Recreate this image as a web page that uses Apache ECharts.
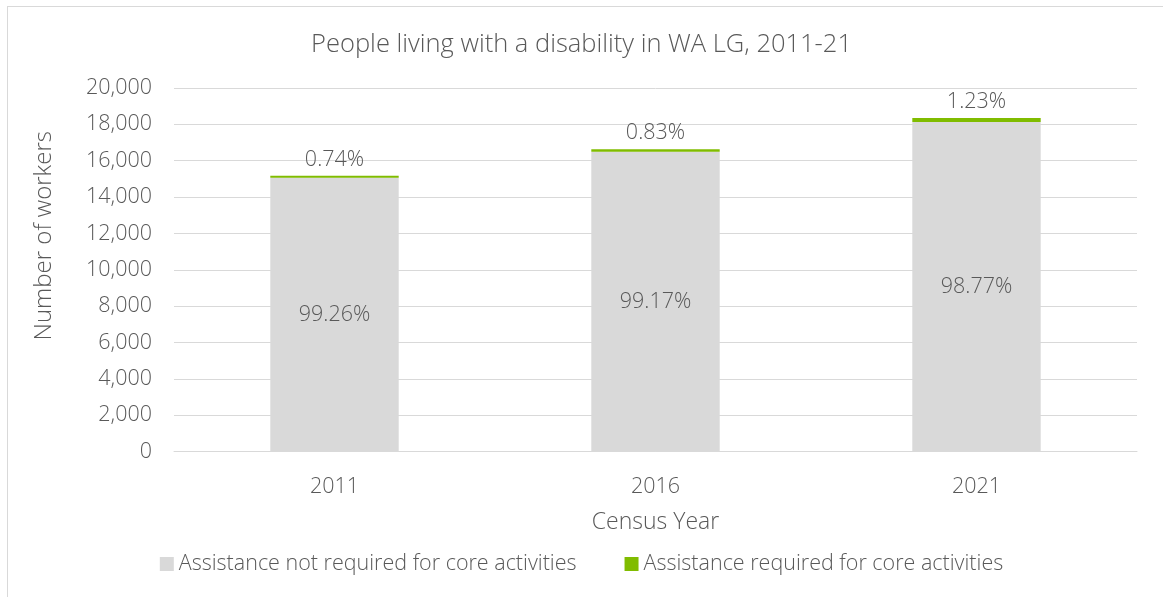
<!DOCTYPE html>
<html>
<head>
<meta charset="utf-8">
<script src="https://cdn.jsdelivr.net/npm/echarts@6/dist/echarts.min.js"></script>
<style>
html,body{margin:0;padding:0;background:#fff;overflow:hidden;}
#frame{position:absolute;left:7px;top:6px;width:1200px;height:700px;border:1px solid #d9d9d9;box-sizing:border-box;}
#chart{position:absolute;left:0;top:0;width:1163px;height:597px;}
</style>
</head>
<body>
<div id="frame"></div>
<div id="chart"></div>
<script>
const categories = ['2011', '2016', '2021'];
const notRequired = [15060, 16492, 18125];
const required = [112, 138, 226];
const yTicks = [0, 2000, 4000, 6000, 8000, 10000, 12000, 14000, 16000, 18000, 20000];
const seriesNames = ['Assistance not required for core activities', 'Assistance required for core activities'];

const totals = notRequired.map((v, i) => v + required[i]);
const pct = (v, i) => (v / totals[i] * 100).toFixed(2) + '%';

const FONT = "'Open Sans', sans-serif";
const TXT = '#595959';
const W = 300;
const FS = 21.5;

const chart = echarts.init(document.getElementById('chart'), null, {renderer: 'canvas'});
chart.setOption({
  animation: false,
  textStyle: {fontFamily: FONT, color: TXT},
  title: {
    text: 'People living with a disability in WA LG, 2011-21',
    left: 'center', top: 27,
    textStyle: {fontFamily: FONT, fontSize: 25.5, fontWeight: W, color: TXT}
  },
  legend: {
    bottom: 17, left: 'center',
    itemWidth: 14, itemHeight: 14, itemGap: 48,
    icon: 'rect',
    textStyle: {fontFamily: FONT, fontSize: FS, fontWeight: W, color: TXT},
    data: seriesNames
  },
  grid: {left: 174, right: 26, top: 88, bottom: 145.5},
  xAxis: {
    type: 'category',
    data: categories,
    name: 'Census Year',
    nameLocation: 'middle',
    nameGap: 59,
    nameTextStyle: {fontFamily: FONT, fontSize: 23, fontWeight: W, color: TXT},
    axisLine: {show: true, lineStyle: {color: '#d9d9d9', width: 1}},
    axisTick: {show: false},
    axisLabel: {fontFamily: FONT, fontSize: FS, fontWeight: W, color: TXT, margin: 24}
  },
  yAxis: {
    type: 'value',
    min: yTicks[0], max: yTicks[yTicks.length - 1], interval: 2000,
    name: 'Number of workers',
    nameLocation: 'middle',
    nameGap: 118,
    nameTextStyle: {fontFamily: FONT, fontSize: 24, fontWeight: W, color: TXT, padding: [0, 0, 0, 68]},
    axisLine: {show: false},
    axisTick: {show: false},
    splitLine: {lineStyle: {color: '#d9d9d9', width: 1}},
    axisLabel: {
      fontFamily: FONT, fontSize: FS, fontWeight: W, color: TXT, margin: 22,
      formatter: v => v.toLocaleString('en-US')
    }
  },
  series: [
    {
      name: seriesNames[0], type: 'bar', stack: 'total', barWidth: '40%',
      data: notRequired,
      itemStyle: {color: '#d9d9d9'},
      label: {
        show: true, position: 'inside',
        fontFamily: FONT, fontSize: FS, fontWeight: W, color: TXT,
        formatter: p => pct(p.value, p.dataIndex)
      }
    },
    {
      name: seriesNames[1], type: 'bar', stack: 'total', barWidth: '40%',
      data: required,
      itemStyle: {color: '#80bc00'},
      label: {
        show: true, position: 'top', distance: 5,
        fontFamily: FONT, fontSize: FS, fontWeight: W, color: TXT,
        formatter: p => pct(p.value, p.dataIndex)
      }
    }
  ]
});
</script>
</body>
</html>
